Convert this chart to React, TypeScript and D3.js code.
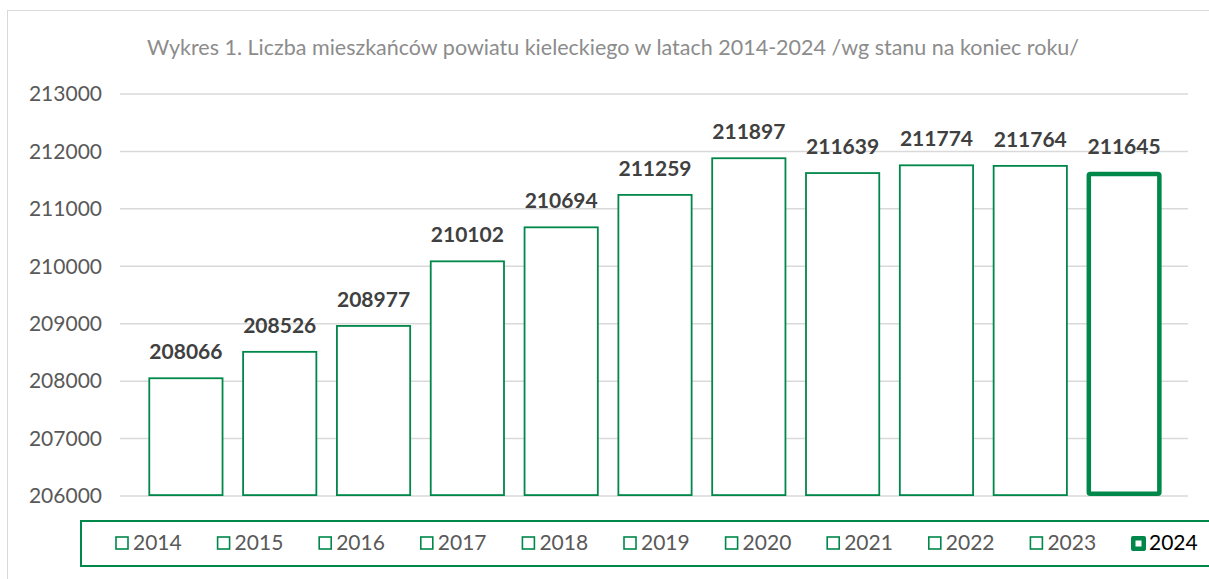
import React from 'react'
import * as d3 from 'd3'

const years = ['2014', '2015', '2016', '2017', '2018', '2019', '2020', '2021', '2022', '2023', '2024']
const residents = [208066, 208526, 208977, 210102, 210694, 211259, 211897, 211639, 211774, 211764, 211645]
const yTicks = [206000, 207000, 208000, 209000, 210000, 211000, 212000, 213000]
const title = 'Wykres 1. Liczba mieszkańców powiatu kieleckiego w latach 2014-2024 /wg stanu na koniec roku/'

const W = 1209
const H = 579
const GREEN = '#00874A'
const FONT = 'Lato, "Open Sans", sans-serif'

export default function App() {
  const x = d3.scaleBand()
    .domain(years)
    .range([139, 1171])
    .paddingInner(0.2)
    .paddingOuter(0.1)
  const y = d3.scaleLinear()
    .domain([206000, 213000])
    .range([496, 94])

  const last = years[years.length - 1]
  const legendStep = 101.6

  return (
    <div style={{ position: 'fixed', left: 0, top: 0 }}>
      <svg width={W} height={H} style={{ display: 'block', background: '#fff' }}>
        <rect x={7.5} y={10.5} width={W + 20} height={H + 20} fill="#fff" stroke="#d9d9d9" />
        <text x={613} y={55} textAnchor="middle" fontFamily={FONT} fontSize={21.5} fill="#8c8c8c">
          {title}
        </text>

        {yTicks.map((t) => (
          <g key={t}>
            <line x1={120} x2={1188} y1={y(t)} y2={y(t)} stroke="#d9d9d9" strokeWidth={1.5} />
            <text x={102} y={y(t)} dy="0.35em" textAnchor="end" fontFamily={FONT} fontSize={21} fill="#595959">
              {t}
            </text>
          </g>
        ))}

        {years.map((yr, i) => {
          const thick = yr === last
          const sw = thick ? 4.5 : 1.8
          return (
            <g key={yr}>
              <rect
                x={x(yr) + sw / 2} y={y(residents[i]) + sw / 2}
                width={x.bandwidth() - sw} height={y(206000) - y(residents[i]) - sw}
                fill="#fff" stroke={GREEN} strokeWidth={sw} rx={thick ? 1.5 : 0}
              />
              <text
                x={x(yr) + x.bandwidth() / 2} y={y(residents[i]) - 18}
                textAnchor="middle" fontFamily={FONT} fontWeight="bold" fontSize={21} fill="#404040"
              >
                {residents[i]}
              </text>
            </g>
          )
        })}

        <rect x={81} y={521} width={W} height={45} fill="none" stroke={GREEN} strokeWidth={2} />
        {years.map((yr, i) => {
          const lx = 116 + i * legendStep
          const sel = yr === last
          return (
            <g key={'lg' + yr}>
              {sel ? (
                <g>
                  <rect x={lx - 1} y={536} width={15} height={15} rx={2} fill={GREEN} />
                  <rect x={lx + 3.5} y={540.5} width={6} height={6} fill="#fff" />
                </g>
              ) : (
                <rect x={lx} y={537} width={12} height={12} fill="#fff" stroke={GREEN} strokeWidth={1.6} />
              )}
              <text x={lx + 17} y={543} dy="0.35em" fontFamily={FONT} fontSize={21} fill={sel ? '#000' : '#595959'}>
                {yr}
              </text>
            </g>
          )
        })}
      </svg>
    </div>
  )
}
